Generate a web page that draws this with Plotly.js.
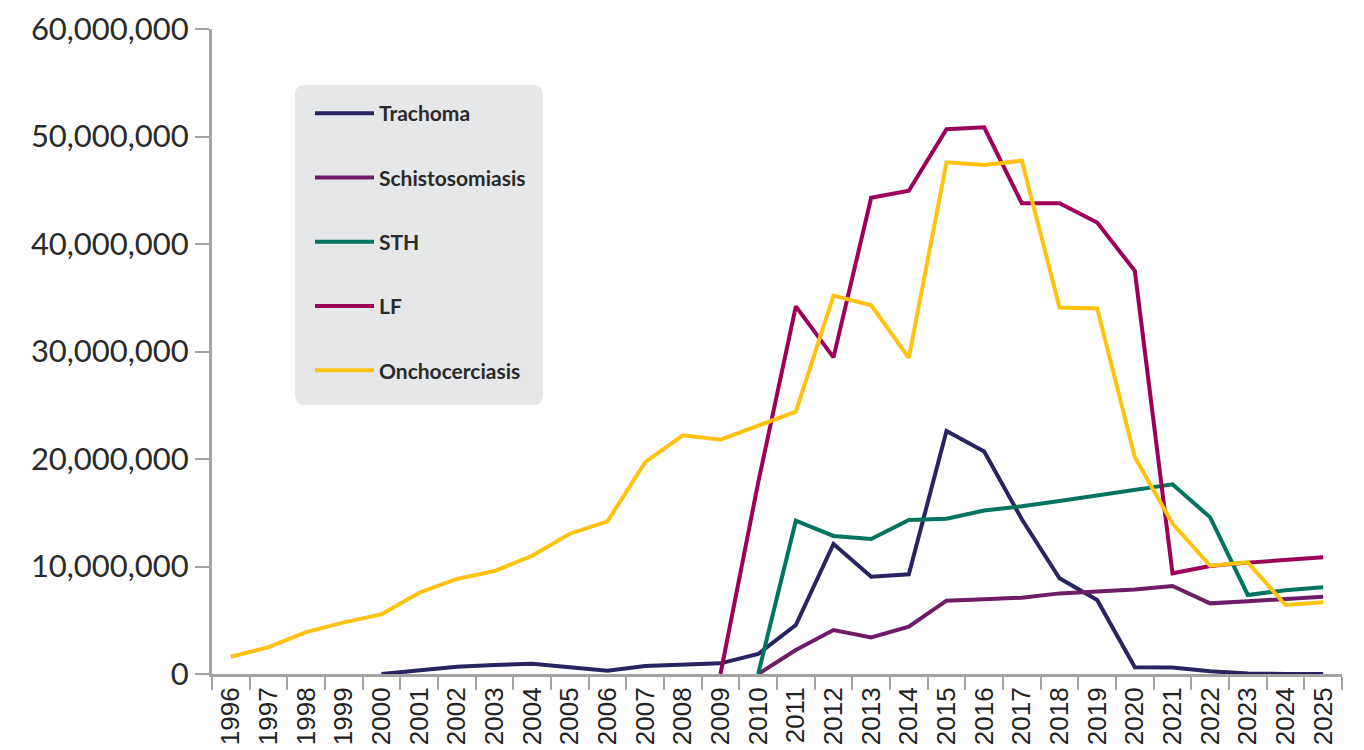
<!DOCTYPE html>
<html>
<head>
<meta charset="utf-8">
<script src="https://cdn.plot.ly/plotly-3.0.1.min.js"></script>
<style>html,body{margin:0;padding:0;background:#fff;}#chart{width:1364px;height:750px;}</style>
</head>
<body>
<div id="chart"></div>
<script>
const years = ["1996","1997","1998","1999","2000","2001","2002","2003","2004","2005","2006","2007","2008","2009","2010","2011","2012","2013","2014","2015","2016","2017","2018","2019","2020","2021","2022","2023","2024","2025"];

const trachoma = [null,null,null,null,0,370000,680000,840000,960000,620000,310000,740000,840000,990000,1860000,4560000,12100000,9050000,9270000,22600000,20700000,14400000,8900000,6880000,620000,600000,250000,50000,0,0];
const schisto = [null,null,null,null,null,null,null,null,null,null,null,null,null,null,0,2230000,4090000,3410000,4400000,6820000,6950000,7100000,7500000,7650000,7850000,8190000,6570000,6760000,6950000,7190000];
const sth = [null,null,null,null,null,null,null,null,null,null,null,null,null,null,0,14260000,12840000,12560000,14330000,14450000,15200000,15600000,16100000,16600000,17100000,17650000,14570000,7350000,7800000,8060000];
const lf = [null,null,null,null,null,null,null,null,null,null,null,null,null,0,17800000,34200000,29450000,44300000,44960000,50670000,50860000,43800000,43800000,42000000,37500000,9370000,10050000,10360000,10600000,10850000];
const oncho = [1600000,2500000,3900000,4800000,5550000,7560000,8840000,9580000,11000000,13050000,14200000,19700000,22200000,21800000,23100000,24400000,35200000,34300000,29400000,47600000,47350000,47750000,34100000,34000000,20160000,14000000,10070000,10390000,6420000,6670000];

const seriesNames = ["Trachoma","Schistosomiasis","STH","LF","Onchocerciasis"];
const seriesData = [trachoma, schisto, sth, lf, oncho];
const seriesColors = ["#27245F","#6C1D66","#00745F","#9C0059","#FFC20F"];

const traces = seriesData.map((d,i)=>({
  type:'scatter', mode:'lines', x:years, y:d, name:seriesNames[i],
  legendgroup:'g'+i,
  line:{color:seriesColors[i], width:4},
  connectgaps:false,
  hoverinfo:'skip'
}));

// rounded legend background (paper coords)
const W=1130, H=645;
const x0=(295-212)/W, x1=(543-212)/W, y0=(674-405)/H, y1=(674-85)/H;
const rx=10/W, ry=10/H;
const pathStr = `M ${x0+rx} ${y0} L ${x1-rx} ${y0} Q ${x1} ${y0} ${x1} ${y0+ry} L ${x1} ${y1-ry} Q ${x1} ${y1} ${x1-rx} ${y1} L ${x0+rx} ${y1} Q ${x0} ${y1} ${x0} ${y1-ry} L ${x0} ${y0+ry} Q ${x0} ${y0} ${x0+rx} ${y0} Z`;

const layout = {
  width:1364, height:750,
  margin:{l:212, r:22, t:29, b:76, pad:0},
  paper_bgcolor:'#ffffff', plot_bgcolor:'#ffffff',
  showlegend:true,
  legend:{
    x:x0+15/W, y:y1-8/H, xanchor:'left', yanchor:'top',
    bgcolor:'rgba(0,0,0,0)', borderwidth:0,
    font:{family:'Lato, sans-serif', size:21, color:'#2a2a2a', weight:'bold'},
    traceorder:'grouped', tracegroupgap:34, itemwidth:59
  },
  xaxis:{
    type:'category', range:[-0.5,29.5], fixedrange:true,
    showgrid:false, zeroline:false,
    showline:true, linecolor:'#A3A3A3', linewidth:3,
    ticks:'outside', ticklen:13, tickwidth:2, tickcolor:'#A3A3A3',
    tickson:'boundaries', tickangle:-90,
    tickfont:{family:'"Liberation Sans", Arial, sans-serif', size:26, color:'#222'}
  },
  yaxis:{
    range:[0,60000000], fixedrange:true,
    tickvals:[0,10000000,20000000,30000000,40000000,50000000,60000000],
    tickformat:',d',
    showgrid:false, zeroline:false,
    showline:true, linecolor:'#A3A3A3', linewidth:3,
    ticks:'outside', ticklen:14, tickwidth:2, tickcolor:'#A3A3A3',
    tickfont:{family:'Lato, sans-serif', size:31, color:'#2a2a2a'}
  },
  shapes:[{type:'path', xref:'paper', yref:'paper', path:pathStr, fillcolor:'#E6E7E9', line:{width:0}, layer:'below'}]
};

Plotly.newPlot('chart', traces, layout, {displayModeBar:false, staticPlot:true});
</script>
</body>
</html>
